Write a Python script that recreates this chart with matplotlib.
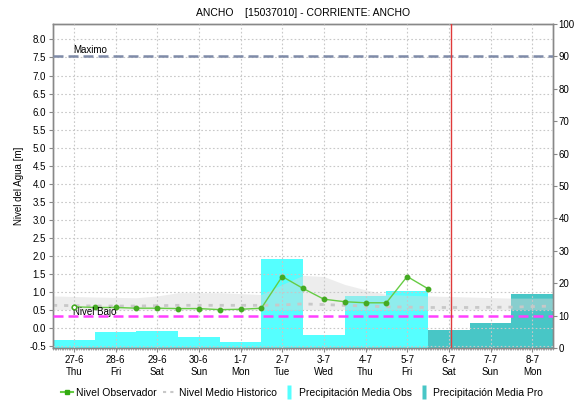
import matplotlib
matplotlib.use("Agg")
import matplotlib.pyplot as plt
import numpy as np
from matplotlib.lines import Line2D

plt.rcParams['font.family'] = ['Liberation Sans', 'DejaVu Sans']

# ---- data ----
day_labels = ["27-6\nThu", "28-6\nFri", "29-6\nSat", "30-6\nSun", "1-7\nMon", "2-7\nTue",
              "3-7\nWed", "4-7\nThu", "5-7\nFri", "6-7\nSat", "7-7\nSun", "8-7\nMon"]
precip_obs = [2.5, 5.0, 5.2, 3.5, 1.85, 27.5, 4.1, 16.0, 17.7]
precip_pro = [5.5, 7.8, 16.8]

nivel_x = [0.5, 1.0, 1.5, 2.0, 2.5, 3.0, 3.5, 4.0, 4.5, 5.0, 5.5, 6.0, 6.5, 7.0, 7.5, 8.0, 8.5, 9.0]
nivel_obs = [0.58, 0.56, 0.56, 0.54, 0.54, 0.53, 0.53, 0.50, 0.51, 0.54, 1.42, 1.09,
             0.79, 0.72, 0.69, 0.69, 1.42, 1.08]

hist_x = [0, 1, 2, 2.5, 3, 4, 5, 5.5, 6, 6.5, 7, 7.5, 8, 9, 10, 11, 12]
hist_mean = [0.62, 0.60, 0.60, 0.61, 0.62, 0.62, 0.62, 0.63, 0.66, 0.64, 0.62, 0.60,
             0.58, 0.56, 0.56, 0.57, 0.60]
hist_upper = [0.88, 0.85, 0.83, 0.88, 0.97, 0.97, 0.92, 1.20, 1.45, 1.42, 1.20, 1.05,
              0.92, 0.88, 0.85, 0.82, 0.82]
hist_lower = [0.50, 0.50, 0.50, 0.50, 0.50, 0.50, 0.50, 0.50, 0.50, 0.50, 0.50, 0.50,
              0.50, 0.50, 0.50, 0.50, 0.50]

nivel_maximo = 7.53
nivel_bajo = 0.33
now_x = 9.55

# ---- figure ----
fig = plt.figure(figsize=(5.74, 4.04), dpi=100)
ax = fig.add_axes([53/574, 1-348/404, 500/574, 324/404])
ax2 = ax.twinx()
ax.set_zorder(ax2.get_zorder() + 1)
ax.patch.set_visible(False)

n_obs = len(precip_obs)
x_obs = np.arange(n_obs)
x_pro = np.arange(n_obs, n_obs + len(precip_pro))
ax2.bar(x_obs, precip_obs, width=1.0, align='edge', color='#55FFFF', linewidth=0)
ax2.bar(x_pro, precip_pro, width=1.0, align='edge', color='#48C6C6', linewidth=0)
ax2.set_ylim(0, 100)
ax2.set_yticks(np.arange(0, 101, 10))

ax.fill_between(hist_x, hist_lower, hist_upper, color='#d8d8d8', alpha=0.45, linewidth=0, zorder=1)
ax.plot(hist_x, hist_mean, color='#c8c8c8', linestyle=(0, (1.5, 2.5)), linewidth=2, zorder=2)

ax.axhline(nivel_maximo, color='#7f8ba8', linestyle=(0, (4, 2)), linewidth=1.8, zorder=3)
ax.axhline(nivel_bajo, color='#ff40ff', linestyle=(0, (4, 2)), linewidth=1.8, zorder=3)
ax.text(0.48, nivel_maximo + 0.05, "Maximo", fontsize=7, va='bottom', ha='left', zorder=5)
ax.text(0.48, nivel_bajo - 0.03, "Nivel Bajo", fontsize=7, va='bottom', ha='left', zorder=5)

ax.plot(nivel_x, nivel_obs, color='#66cc44', linewidth=1.0, marker='o', markersize=3.2,
        markerfacecolor='#44aa22', markeredgecolor='#44aa22', zorder=4)
ax.plot(nivel_x[:1], nivel_obs[:1], linestyle='none', marker='o', markersize=3.2,
        markerfacecolor='white', markeredgecolor='#44aa22', zorder=5)

ax.axvline(now_x, color='#e03a3a', linewidth=1.0, zorder=4)

ax.set_xlim(0, 12)
ax.set_ylim(-0.565, 8.43)
ax.set_yticks(np.arange(-0.5, 8.01, 0.5))
ax.set_yticklabels([f"{v:.1f}" for v in np.arange(-0.5, 8.01, 0.5)])
ax.set_xticks(np.arange(len(day_labels)) + 0.5)
ax.set_xticklabels(day_labels)
ax.set_xticks(np.arange(0, 12.001, 1/24), minor=True)
ax.grid(True, color='#c8c8c8', linestyle=(0, (1.5, 2)), linewidth=0.8)
ax.set_axisbelow(False)

for a in (ax, ax2):
    for s in a.spines.values():
        s.set_color('#888888')
        s.set_linewidth(1.0)
ax.tick_params(axis='both', which='major', labelsize=7, length=3, color='#888888', pad=2)
ax.tick_params(axis='x', which='minor', length=1.5, width=0.5, color='#888888')
ax2.tick_params(axis='y', labelsize=7, length=3, color='#888888', pad=1)

ax.set_ylabel("Nivel del Agua [m]", fontsize=7, labelpad=4)
ax.set_title("ANCHO    [15037010] - CORRIENTE: ANCHO", fontsize=7.5, pad=6)

bar_marker = [(-0.32, -1), (0.32, -1), (0.32, 1), (-0.32, 1)]
handles = [
    Line2D([], [], color='#66cc44', linewidth=1.5, marker='s', markersize=2.5,
           markerfacecolor='#33aa11', markeredgecolor='#33aa11'),
    Line2D([], [], color='#c8c8c8', linestyle=(0, (1.5, 2.0)), linewidth=1.5),
    Line2D([], [], linestyle='none', marker=bar_marker, markersize=10,
           markerfacecolor='#55FFFF', markeredgecolor='none'),
    Line2D([], [], linestyle='none', marker=bar_marker, markersize=10,
           markerfacecolor='#48C6C6', markeredgecolor='none'),
]
labels = ["Nivel Observador", "Nivel Medio Historico", "Precipitación Media Obs", "Precipitación Media Pro"]
fig.legend(handles, labels, loc='center', bbox_to_anchor=(302/574, 1-393/404), ncol=4,
           frameon=False, fontsize=7.5, handlelength=1.2, handletextpad=0.3,
           columnspacing=0.6, markerscale=1.0)

fig.savefig("out.png", dpi=100)
